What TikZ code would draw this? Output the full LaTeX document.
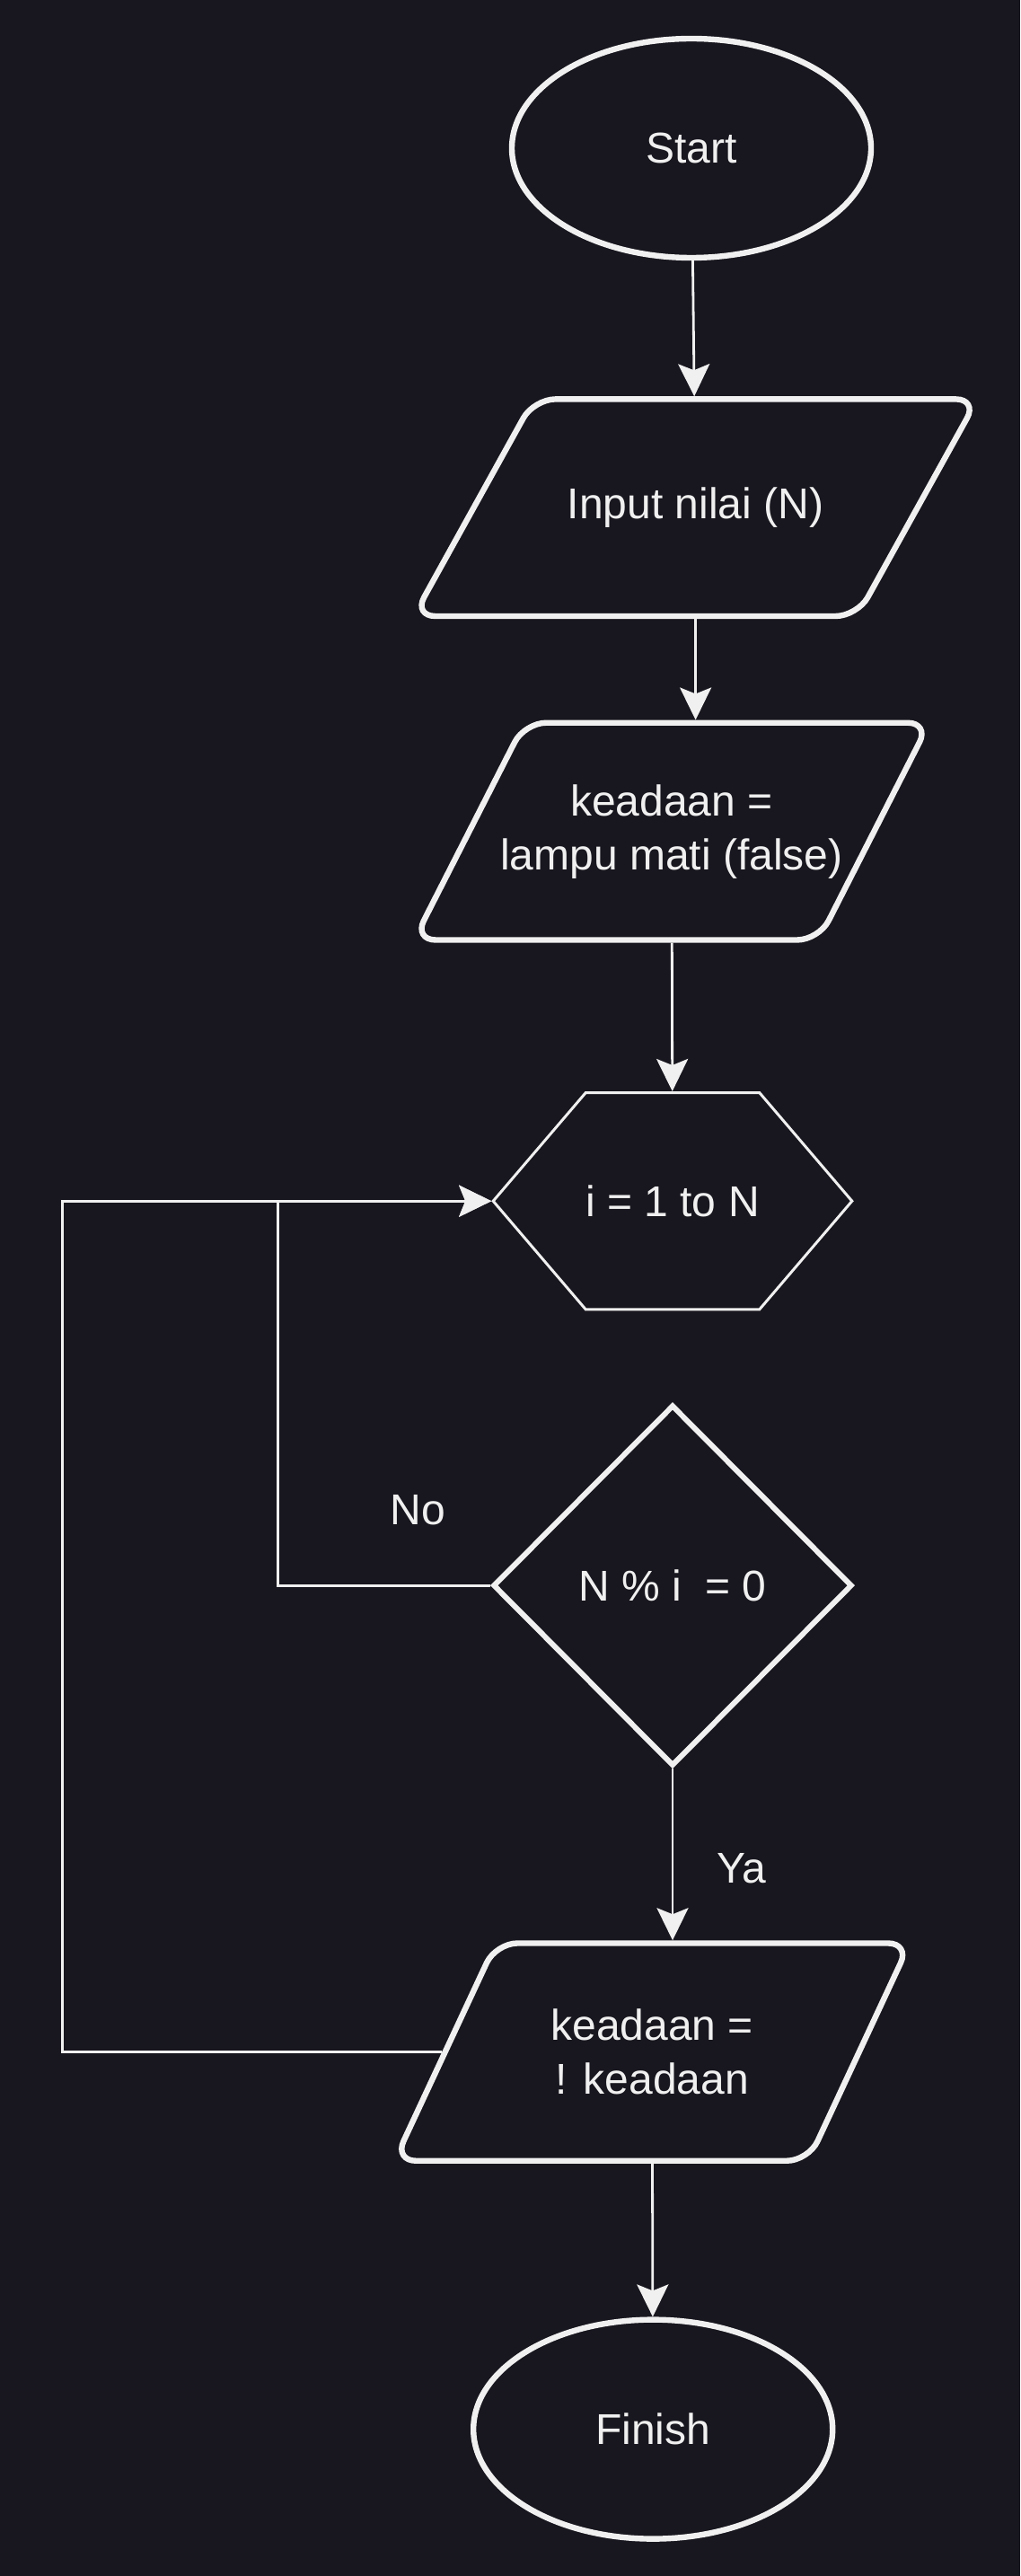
\documentclass[tikz,border=0pt]{standalone}
\usepackage{fontspec}
\setmainfont{Liberation Sans}
\usetikzlibrary{shapes.geometric,shapes.symbols,arrows.meta,positioning}
\definecolor{bgdark}{RGB}{24,22,30}
\definecolor{ink}{RGB}{240,240,240}

\begin{document}
\begin{tikzpicture}[->,>={Stealth[length=18pt,width=17.5pt,inset=3.5pt]},line width=1.4pt,
    color=ink,font=\fontsize{24}{30}\selectfont,
    terminal/.style={ellipse,draw,line width=3.2pt,minimum width=200pt,
      minimum height=122pt,inner sep=0pt},
    io/.style={trapezium,draw,line width=3.2pt,rounded corners=12pt,
      trapezium stretches body,inner xsep=0pt,align=center},
    loophex/.style={signal,signal to=west and east,signal pointer angle=99,draw,
      line width=1.5pt,minimum height=120.7pt,inner sep=0pt},
    decision/.style={diamond,draw,line width=3pt,minimum width=200pt,
      minimum height=201pt,inner sep=0pt},
    lbl/.style={inner sep=0pt}]

  \fill[bgdark,-] (0,0) rectangle (568pt,-1434pt);

  \node[terminal] (start) at (385pt,-82.5pt) {Start};
  \node[io,trapezium left angle=61,trapezium right angle=119,minimum width=314pt,
    inner ysep=49.2pt] (input) [below of=start,node distance=200.1pt,xshift=2.3pt]
    {Input nilai (N)};
  \node[io,trapezium left angle=63,trapezium right angle=117,minimum width=287pt,
    inner ysep=34.25pt,inner xsep=-20pt] (keadaan)
    [below of=input,node distance=180.2pt,xshift=-13.3pt]
    {keadaan =\\lampu mati (false)};
  \node[loophex] (loop) [below of=keadaan,node distance=205.8pt,xshift=0.5pt] {i = 1 to N};
  \node[decision] (cond) [below of=loop,node distance=214pt] {N \% i \ = 0};
  \node[io,trapezium left angle=65,trapezium right angle=115,minimum width=287pt,
    inner ysep=36.75pt] (output) [below of=cond,node distance=259.7pt,xshift=-11.4pt]
    {keadaan =\\! keadaan};
  \node[terminal] (finish) [below of=output,node distance=210pt,xshift=0.5pt] {Finish};

  \coordinate (nox) at (154.6pt,0);
  \coordinate (backx) at (34.8pt,0);

  \path (start) edge (input);
  \path (input.south) edge (input.south |- keadaan.north);
  \path (keadaan) edge (loop);
  \path (cond.south) edge node[lbl,right=24pt,pos=0.58] {Ya} (cond.south |- output.north);
  \path (output) edge (finish);

  \draw (cond.west) -- node[lbl,above=33pt,pos=0.34] {No} (cond.west -| nox) |- (loop.west);
  \draw (output.west) -- (output.west -| backx) |- (loop.west);
\end{tikzpicture}
\end{document}
